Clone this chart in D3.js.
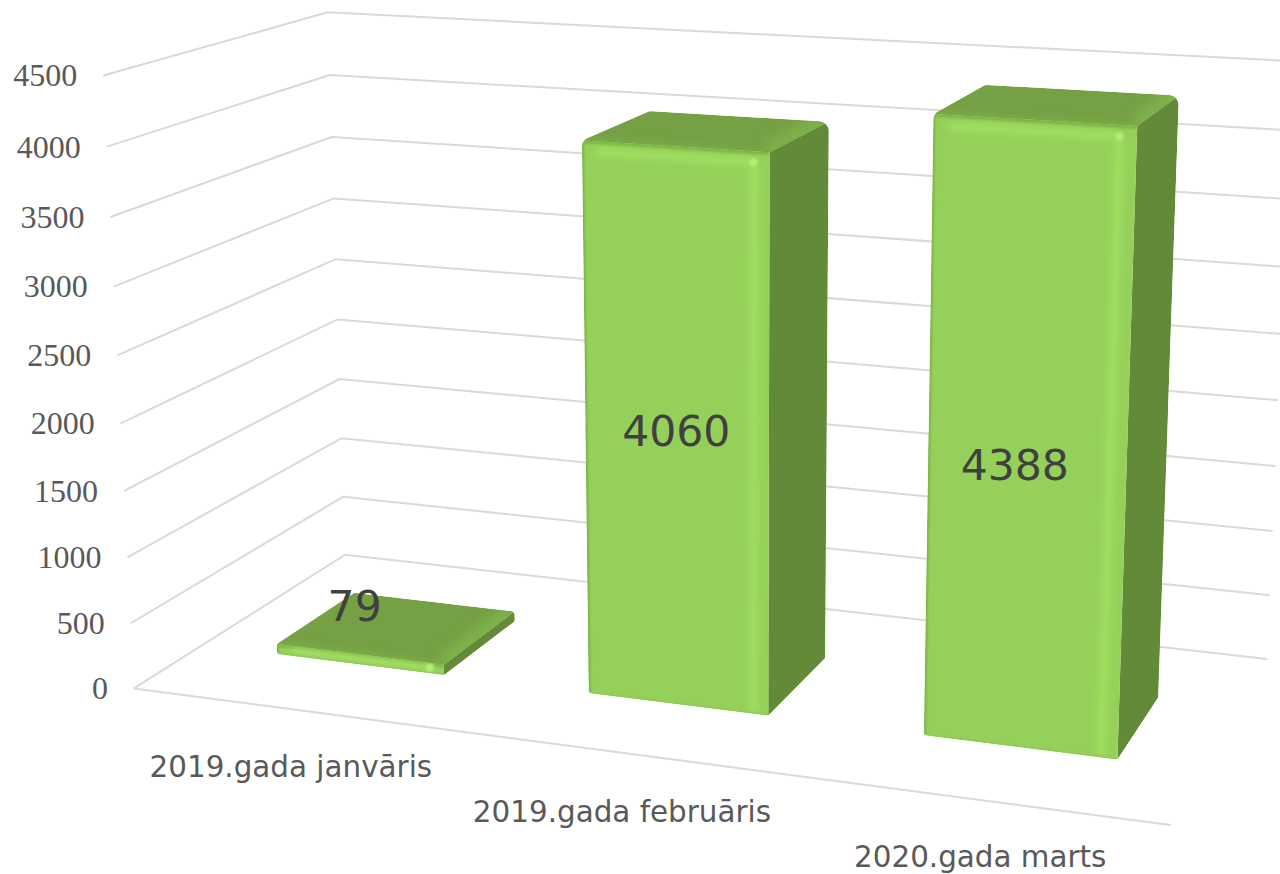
<!DOCTYPE html>
<html>
<head>
<meta charset="utf-8">
<script src="https://cdn.jsdelivr.net/npm/d3@7"></script>
<style>
  html, body { margin: 0; padding: 0; background: #fff; overflow: hidden; }
</style>
</head>
<body>
<div id="chart"></div>
<script>
const categories = ["2019.gada janvāris", "2019.gada februāris", "2020.gada marts"];
const values = [79, 4060, 4388];
const tickValues = [0, 500, 1000, 1500, 2000, 2500, 3000, 3500, 4000, 4500];

const width = 1280, height = 874;
const barZ = [0.3, 0.68];

const xScale = d3.scaleBand().domain(categories).range([0.0068, 0.9983]).paddingInner(0.4554).paddingOuter(0.2277);
const yScale = d3.scaleLinear().domain([0, 4500]).range([0, 1]);

// camera fit: box corners (x, y, z) seen on the screen at (u, v)
const calib = [
  [0, 0, 0, 134, 688], [0, 1, 0, 103, 76], [0, 0, 1, 345, 555], [0, 1, 1, 328, 12],
  [1, 0, 1, 1267, 659], [1, 1, 1, 1293, 61], [1, 0, 0, 1171, 825]
];

function solve(A, b) {
  const n = b.length, M = A.map((r, i) => [...r, b[i]]);
  for (let i = 0; i < n; i++) {
    let p = i;
    for (let k = i + 1; k < n; k++) if (Math.abs(M[k][i]) > Math.abs(M[p][i])) p = k;
    [M[i], M[p]] = [M[p], M[i]];
    for (let k = 0; k < n; k++) {
      if (k === i) continue;
      const f = M[k][i] / M[i][i];
      for (let j = i; j <= n; j++) M[k][j] -= f * M[i][j];
    }
  }
  return M.map((r, i) => r[n] / r[i]);
}

function fitCamera(pts) {
  const rows = [], rhs = [];
  pts.forEach(([X, Y, Z, u, v]) => {
    rows.push([X, Y, Z, 1, 0, 0, 0, 0, -u * X, -u * Y, -u * Z]); rhs.push(u);
    rows.push([0, 0, 0, 0, X, Y, Z, 1, -v * X, -v * Y, -v * Z]); rhs.push(v);
  });
  const ata = d3.range(11).map(i => d3.range(11).map(j => d3.sum(rows, r => r[i] * r[j])));
  const atb = d3.range(11).map(i => d3.sum(rows, (r, k) => r[i] * rhs[k]));
  return solve(ata, atb);
}

const cam = fitCamera(calib);
function project(x, y, z) {
  const w = cam[8] * x + cam[9] * y + cam[10] * z + 1;
  return [
    (cam[0] * x + cam[1] * y + cam[2] * z + cam[3]) / w,
    (cam[4] * x + cam[5] * y + cam[6] * z + cam[7]) / w
  ];
}

const svg = d3.select("#chart").append("svg")
  .attr("width", width).attr("height", height)
  .style("display", "block");
const defs = svg.append("defs");
[["blur1", 1.2], ["blur2", 3], ["blur4", 5]].forEach(([id, s]) => {
  defs.append("filter").attr("id", id)
    .attr("filterUnits", "userSpaceOnUse").attr("x", 0).attr("y", 0).attr("width", width).attr("height", height)
    .append("feGaussianBlur").attr("stdDeviation", s);
});

const line = d3.line();
const poly = pts => line(pts) + "Z";

// grid: left wall and back wall for each tick
const grid = svg.append("g").attr("fill", "none").attr("stroke", "#d9d9d9").attr("stroke-width", 2);
grid.selectAll("path.tick").data(tickValues).join("path").attr("class", "tick")
  .attr("d", t => line([project(0, yScale(t), 0), project(0, yScale(t), 1), project(1, yScale(t), 1)]));
grid.append("path").attr("d", line([project(0, 0, 0), project(1, 0, 0)]));

// value axis labels
svg.append("g").selectAll("text").data(tickValues).join("text")
  .attr("x", t => project(0, yScale(t), 0)[0] - 26)
  .attr("y", t => project(0, yScale(t), 0)[1])
  .attr("dy", "0.34em")
  .attr("text-anchor", "end")
  .attr("font-family", "'Liberation Serif', serif")
  .attr("font-size", 32)
  .attr("fill", "#595959")
  .text(t => t);

// pull a convex outline inwards by d pixels
function inset(pts, d) {
  const s = d3.polygonArea(pts) > 0 ? -1 : 1;
  const n = pts.length;
  const edges = pts.map((p, i) => {
    const q = pts[(i + 1) % n], len = Math.hypot(q[0] - p[0], q[1] - p[1]);
    const nx = -s * (q[1] - p[1]) / len, ny = s * (q[0] - p[0]) / len;
    return [[p[0] + nx * d, p[1] + ny * d], [q[0] - p[0], q[1] - p[1]]];
  });
  return edges.map((e, i) => {
    const [a, u] = edges[(i + n - 1) % n], [b, w] = e;
    const t = ((b[0] - a[0]) * w[1] - (b[1] - a[1]) * w[0]) / (u[0] * w[1] - u[1] * w[0]);
    return [a[0] + u[0] * t, a[1] + u[1] * t];
  });
}

// bars
const bars = svg.append("g");
categories.forEach((c, i) => {
  const v = values[i];
  const x0 = xScale(c), x1 = x0 + xScale.bandwidth();
  const [z0, z1] = barZ;
  const top = yScale(v);

  const silhouette = h => d3.polygonHull([
    project(x0, 0, z0), project(x1, 0, z0), project(x1, 0, z1),
    project(x1, h, z1), project(x0, h, z1), project(x0, h, z0)
  ]);

  const frontPx = Math.abs(project(x0, top, z0)[1] - project(x0, 0, z0)[1]);
  const r = Math.min(10, frontPx * 0.45);
  const rFoot = Math.min(3, r);   // the foot has a much tighter corner than the head
  const mask = defs.append("mask").attr("id", "round" + i).attr("maskUnits", "userSpaceOnUse")
    .attr("x", 0).attr("y", 0).attr("width", width).attr("height", height);
  [[top, r], [top * 0.5, rFoot]].forEach(([h, rad]) => {
    mask.append("path").attr("d", poly(inset(silhouette(h), rad)))
      .attr("fill", "#fff").attr("stroke", "#fff")
      .attr("stroke-width", 2 * rad).attr("stroke-linejoin", "round");
  });

  const front = [project(x0, 0, z0), project(x1, 0, z0), project(x1, top, z0), project(x0, top, z0)];
  const side = [project(x1, 0, z0), project(x1, 0, z1), project(x1, top, z1), project(x1, top, z0)];
  const lid = [project(x0, top, z0), project(x1, top, z0), project(x1, top, z1), project(x0, top, z1)];

  defs.append("clipPath").attr("id", "front" + i).append("path").attr("d", poly(front));
  defs.append("clipPath").attr("id", "lid" + i).append("path").attr("d", poly(lid));

  const g = bars.append("g").attr("mask", `url(#round${i})`);
  g.append("path").attr("d", poly(side)).attr("fill", "#628a38");
  g.append("path").attr("d", poly(lid)).attr("fill", "#76a044");
  g.append("path").attr("d", poly(front)).attr("fill", "#95d15a");

  const lidGlow = g.append("g").attr("clip-path", `url(#lid${i})`).attr("fill", "none");
  lidGlow.append("path").attr("d", line([project(x1, top, z0), project(x1, top, z1)]))
    .attr("stroke", "#7db049").attr("stroke-width", 22).attr("filter", "url(#blur4)");
  lidGlow.append("path").attr("d", line([project(x0, top, z0), project(x1, top, z0)]))
    .attr("stroke", "#7aae46").attr("stroke-width", 5).attr("filter", "url(#blur2)");

  const bx = 0.015, by = Math.min(yScale(75), top * 0.45);
  const frontGlow = g.append("g").attr("clip-path", `url(#front${i})`).attr("fill", "none");
  const stroke = (pts, col, w, blur) => frontGlow.append("path").attr("d", line(pts))
    .attr("stroke", col).attr("stroke-width", w).attr("filter", `url(#${blur})`);
  stroke([project(x0, top, z0), project(x1, top, z0)], "#7db546", 6, "blur1");
  stroke([project(x0 + bx, top - by, z0), project(x1 - bx, top - by, z0)], "#a2e062", 7, "blur2");
  stroke([project(x1 - bx, 0, z0), project(x1 - bx, top - by, z0)], "#a0de60", 9, "blur2");
  stroke([project(x0, 0, z0), project(x0, top, z0)], "#7cb446", 4, "blur1");
  stroke([project(x0, 0, z0), project(x1, 0, z0)], "#8cc852", 3, "blur1");
  const spot = project(x1 - bx, top - by, z0);
  frontGlow.append("circle").attr("cx", spot[0]).attr("cy", spot[1]).attr("r", 4)
    .attr("fill", "#b4ef72").attr("filter", "url(#blur1)");
});

// data labels
const labelOffsets = [[-5, -54], [0, -1], [-12, 23]];
svg.append("g").selectAll("text").data(values).join("text")
  .attr("x", (v, i) => {
    const c = categories[i], m = xScale(c) + xScale.bandwidth() / 2;
    return project(m, yScale(v) / 2, barZ[0])[0] + labelOffsets[i][0];
  })
  .attr("y", (v, i) => {
    const c = categories[i], m = xScale(c) + xScale.bandwidth() / 2;
    return project(m, yScale(v) / 2, barZ[0])[1] + labelOffsets[i][1];
  })
  .attr("dy", "0.36em")
  .attr("text-anchor", "middle")
  .attr("font-family", "'DejaVu Sans', sans-serif")
  .attr("font-size", 42.5)
  .attr("fill", "#404040")
  .text(v => v);

// category labels
const categoryOffsets = [[-5, 57], [-3, 58], [0, 56]];
svg.append("g").selectAll("text").data(categories).join("text")
  .attr("x", (c, i) => project(xScale(c) + xScale.bandwidth() / 2, 0, 0)[0] + categoryOffsets[i][0])
  .attr("y", (c, i) => project(xScale(c) + xScale.bandwidth() / 2, 0, 0)[1] + categoryOffsets[i][1])
  .attr("dy", "0.36em")
  .attr("text-anchor", "middle")
  .attr("font-family", "'DejaVu Sans', sans-serif")
  .attr("font-size", 29.4)
  .attr("fill", "#595959")
  .text(c => c);
</script>
</body>
</html>
